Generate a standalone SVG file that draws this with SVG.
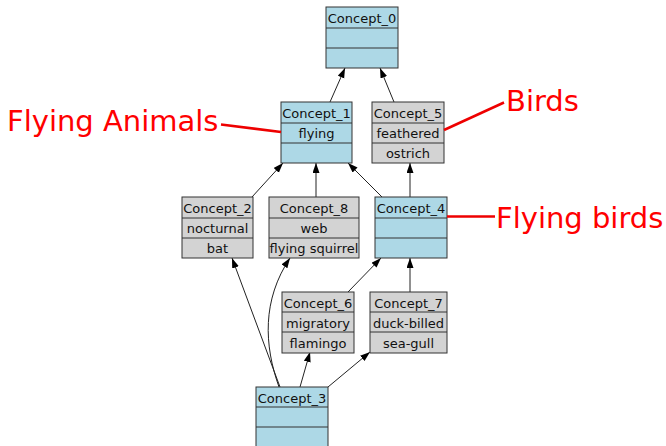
<svg xmlns="http://www.w3.org/2000/svg" width="666" height="446" viewBox="0 0 666 446">
<defs>
<marker id="ah" markerWidth="10" markerHeight="8" refX="10" refY="3.5" orient="auto" markerUnits="userSpaceOnUse">
<path d="M0,0 L10,3.5 L0,7 z" fill="#000"/>
</marker>
</defs>
<style>
.b rect{stroke:#333;stroke-width:1}
.blue rect{fill:#add8e6}
.grey rect{fill:#d3d3d3}
.b text{font-family:"DejaVu Sans",sans-serif;font-size:13px;fill:#111;text-anchor:middle}
.e{fill:none;stroke:#222;stroke-width:1;marker-end:url(#ah)}
.ann{font-family:"DejaVu Sans",sans-serif;font-size:29px;fill:#f00}
.al{stroke:#e00;stroke-width:2.5;fill:none}
</style>
<rect width="666" height="446" fill="#fff"/>
<g id="connectors">
<line class="e" x1="330" y1="102" x2="345" y2="68"/>
<line class="e" x1="394" y1="102" x2="380" y2="68"/>
<line class="e" x1="252" y1="197" x2="283" y2="163"/>
<line class="e" x1="316" y1="197" x2="316" y2="163"/>
<line class="e" x1="382" y1="197" x2="348" y2="163"/>
<line class="e" x1="410" y1="197" x2="410" y2="163"/>
<line class="e" x1="348" y1="292" x2="381" y2="258"/>
<line class="e" x1="410" y1="292" x2="410" y2="258"/>
<line class="e" x1="280" y1="387" x2="232" y2="258"/>
<path class="e" d="M279,387 C264,345 262,300 290,258"/>
<line class="e" x1="300" y1="387" x2="310" y2="352"/>
<line class="e" x1="328" y1="387" x2="370" y2="352"/>
</g>
<g id="Concept_0" class="b blue">
<rect x="326" y="7" width="72" height="61"/>
<line x1="326" y1="28" x2="398" y2="28" stroke="#333"/>
<line x1="326" y1="48" x2="398" y2="48" stroke="#333"/>
<text x="362" y="23">Concept_0</text>
</g>
<g id="Concept_1" class="b blue">
<rect x="281" y="102" width="71" height="61"/>
<line x1="281" y1="123" x2="352" y2="123" stroke="#333"/>
<line x1="281" y1="143" x2="352" y2="143" stroke="#333"/>
<text x="316.5" y="118">Concept_1</text>
<text x="316.5" y="138">flying</text>
</g>
<g id="Concept_5" class="b grey">
<rect x="372" y="102" width="72" height="61"/>
<line x1="372" y1="123" x2="444" y2="123" stroke="#333"/>
<line x1="372" y1="143" x2="444" y2="143" stroke="#333"/>
<text x="408" y="118">Concept_5</text>
<text x="408" y="138">feathered</text>
<text x="408" y="158">ostrich</text>
</g>
<g id="Concept_2" class="b grey">
<rect x="182" y="197" width="71" height="61"/>
<line x1="182" y1="218" x2="253" y2="218" stroke="#333"/>
<line x1="182" y1="238" x2="253" y2="238" stroke="#333"/>
<text x="217.5" y="213">Concept_2</text>
<text x="217.5" y="233">nocturnal</text>
<text x="217.5" y="253">bat</text>
</g>
<g id="Concept_8" class="b grey">
<rect x="269" y="197" width="90" height="61"/>
<line x1="269" y1="218" x2="359" y2="218" stroke="#333"/>
<line x1="269" y1="238" x2="359" y2="238" stroke="#333"/>
<text x="314" y="213">Concept_8</text>
<text x="314" y="233">web</text>
<text x="314" y="253">flying squirrel</text>
</g>
<g id="Concept_4" class="b blue">
<rect x="375" y="197" width="72" height="61"/>
<line x1="375" y1="218" x2="447" y2="218" stroke="#333"/>
<line x1="375" y1="238" x2="447" y2="238" stroke="#333"/>
<text x="411" y="213">Concept_4</text>
</g>
<g id="Concept_6" class="b grey">
<rect x="282" y="292" width="72" height="61"/>
<line x1="282" y1="312" x2="354" y2="312" stroke="#333"/>
<line x1="282" y1="332" x2="354" y2="332" stroke="#333"/>
<text x="318" y="308">Concept_6</text>
<text x="318" y="328">migratory</text>
<text x="318" y="348">flamingo</text>
</g>
<g id="Concept_7" class="b grey">
<rect x="370" y="292" width="77" height="61"/>
<line x1="370" y1="312" x2="447" y2="312" stroke="#333"/>
<line x1="370" y1="332" x2="447" y2="332" stroke="#333"/>
<text x="408.5" y="308">Concept_7</text>
<text x="408.5" y="328">duck-billed</text>
<text x="408.5" y="348">sea-gull</text>
</g>
<g id="Concept_3" class="b blue">
<rect x="256" y="387" width="72" height="61"/>
<line x1="256" y1="407" x2="328" y2="407" stroke="#333"/>
<line x1="256" y1="427" x2="328" y2="427" stroke="#333"/>
<text x="292" y="403">Concept_3</text>
</g>
<g id="annotations">
<text class="ann" x="7" y="130.5">Flying Animals</text>
<line class="al" x1="221" y1="124.5" x2="281" y2="132"/>
<text class="ann" x="506" y="111">Birds</text>
<line class="al" x1="504" y1="102.5" x2="444" y2="130"/>
<text class="ann" x="496" y="228">Flying birds</text>
<line class="al" x1="447" y1="216.5" x2="495" y2="216.5"/>
</g>
</svg>
